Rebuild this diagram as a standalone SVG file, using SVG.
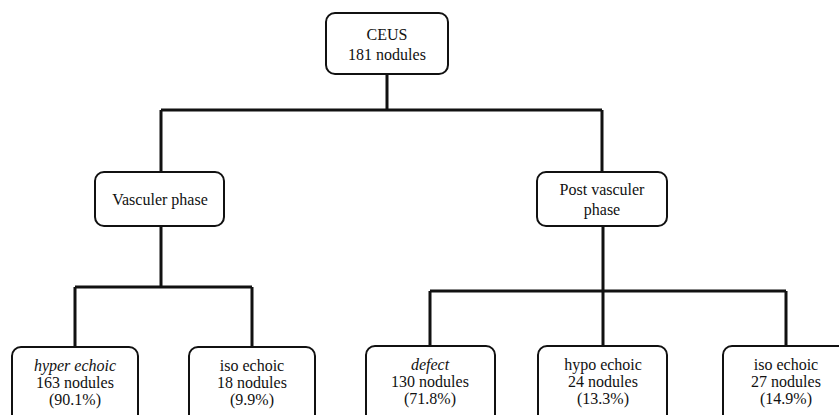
<svg xmlns="http://www.w3.org/2000/svg" width="839" height="415" viewBox="0 0 839 415" font-family="Liberation Serif, DejaVu Serif, serif" font-size="16">
<style>
.box{fill:#fff;stroke:#111;stroke-width:2}
text{font-family:"Liberation Serif","DejaVu Serif",serif;font-size:16px;fill:#111;text-anchor:middle}
.i{font-style:italic}
.c{fill:none;stroke:#111;stroke-width:3}
</style>
<rect width="839" height="415" fill="#fff"/>
<g id="connectors">
<path class="c" d="M387 74V110M161 110H602M161 110V172M602 110V172"/>
<path class="c" d="M161 226V287M75 287H252M75 287V347M252 287V347"/>
<path class="c" d="M603 226V291M430 291H786M430 291V346M603 291V346M786 291V346"/>
</g>
<g id="ceus">
<rect class="box" x="326" y="13" width="122" height="61" rx="9"/>
<text x="387" y="40">CEUS</text>
<text x="387" y="60">181 nodules</text>
</g>
<g id="vascular">
<rect class="box" x="95" y="172" width="129" height="54" rx="9"/>
<text x="160" y="205">Vasculer phase</text>
</g>
<g id="postvascular">
<rect class="box" x="537" y="172" width="130" height="54" rx="9"/>
<text x="602" y="195">Post vasculer</text>
<text x="602" y="215">phase</text>
</g>
<g id="hyper">
<rect class="box" x="12" y="347" width="126" height="90" rx="9"/>
<text class="i" x="75" y="371">hyper echoic</text>
<text x="75" y="388">163 nodules</text>
<text x="75" y="405">(90.1%)</text>
</g>
<g id="iso1">
<rect class="box" x="189" y="347" width="126" height="90" rx="9"/>
<text x="252" y="371">iso echoic</text>
<text x="252" y="388">18 nodules</text>
<text x="252" y="405">(9.9%)</text>
</g>
<g id="defect">
<rect class="box" x="366" y="346" width="129" height="90" rx="9"/>
<text class="i" x="430" y="370">defect</text>
<text x="430" y="387">130 nodules</text>
<text x="430" y="404">(71.8%)</text>
</g>
<g id="hypo">
<rect class="box" x="538" y="346" width="129" height="90" rx="9"/>
<text x="603" y="370">hypo echoic</text>
<text x="603" y="387">24 nodules</text>
<text x="603" y="404">(13.3%)</text>
</g>
<g id="iso2">
<rect class="box" x="723" y="346" width="129" height="90" rx="9"/>
<text x="786" y="370">iso echoic</text>
<text x="786" y="387">27 nodules</text>
<text x="786" y="404">(14.9%)</text>
</g>
</svg>
